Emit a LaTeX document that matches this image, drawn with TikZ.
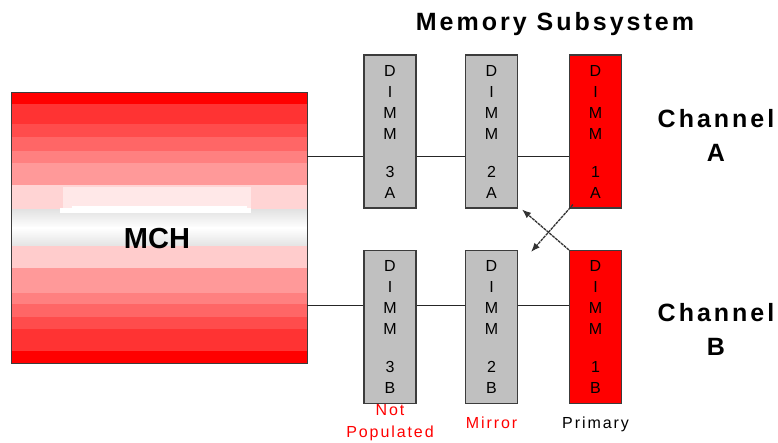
\documentclass[tikz,border=0pt]{standalone}
\usepackage{fontspec}
\setmainfont{Liberation Sans}
\newfontfamily\spacedfont[LetterSpace=12]{Liberation Sans}
\usetikzlibrary{positioning,arrows.meta}
\definecolor{dimmGray}{RGB}{192,192,192}
\definecolor{boxLine}{RGB}{60,60,60}

\begin{document}
\begin{tikzpicture}[x=1pt,y=-1pt,
	dimmBox/.style={rectangle, fill=dimmGray, draw=boxLine, line width=1.1pt, minimum width=52pt, minimum height=153pt, inner sep=0pt, align=center, font=\fontsize{16}{21}\selectfont},
	primaryBox/.style={dimmBox, fill=red},
	busLine/.style={line width=1pt, black!85},
	crossArrow/.style={line width=1.3pt, black!80, dash pattern=on 3pt off 0.8pt, -{Latex[length=9pt,width=7pt]}},
	chanLabel/.style={align=center, font=\spacedfont\bfseries\fontsize{25}{34}\selectfont},
	dimmLabel/.style={align=center, inner sep=0pt, font=\spacedfont\fontsize{16}{22}\selectfont}]

	\useasboundingbox[fill=white] (0,0) rectangle (778,443);

	% MCH bands
	\foreach \ya/\yb/\pct in {92/104/100, 104/124/80, 124/137/70, 137/151/60, 151/163/50, 163/185/40, 185/210/17, 246/268/20, 268/293/40, 293/304/50, 304/317/60, 317/329/70, 329/351/80, 351/363/100}
		\fill[red!\pct] (11,\ya) rectangle (307,\yb);
	\shade[top color=gray!22, bottom color=white] (11,210) rectangle (307,228);
	\shade[top color=white, bottom color=gray!22] (11,228) rectangle (307,246);
	\fill[red!9] (63,187) rectangle (251,209);
	\fill[white] (60,208) rectangle (251,213);
	\fill[white] (72,206) rectangle (247,209);
	\node[rectangle, draw=boxLine, line width=0.9pt, minimum width=296pt, minimum height=271pt](mchBox) at (159,227.5){};
	\node[font=\bfseries\fontsize{29}{34}\selectfont](mchLabel) at (157,239){MCH};

	% DIMMs
	\node[dimmBox](dimm3ABox) at (390,131.5){D\\I\\M\\M\\[17pt]3\\A};
	\node[dimmBox](dimm2ABox) at (491.5,131.5){D\\I\\M\\M\\[17pt]2\\A};
	\node[primaryBox](dimm1ABox) at (595.5,131.5){D\\I\\M\\M\\[17pt]1\\A};

	\node[dimmBox](dimm3BBox) at (390,327){D\\I\\M\\M\\[17pt]3\\B};
	\node[dimmBox](dimm2BBox) at (491.5,327){D\\I\\M\\M\\[17pt]2\\B};
	\node[primaryBox](dimm1BBox) at (595.5,327){D\\I\\M\\M\\[17pt]1\\B};

	% buses
	\coordinate (busA) at (307,157);
	\coordinate (busB) at (307,305);
	\foreach \ch in {A,B}
		\draw[busLine] (mchBox.east |- bus\ch) -- (dimm3\ch Box.west |- bus\ch)
			(dimm3\ch Box.east |- bus\ch) -- (dimm2\ch Box.west |- bus\ch)
			(dimm2\ch Box.east |- bus\ch) -- (dimm1\ch Box.west |- bus\ch);

	% mirror arrows
	\coordinate (fromA) at ([shift={(4,-4)}]dimm1ABox.south west);
	\coordinate (toB) at ([shift={(13,2)}]dimm2BBox.north east);
	\coordinate (fromB) at ([shift={(0,0)}]dimm1BBox.north west);
	\coordinate (toA) at ([shift={(4,1)}]dimm2ABox.south east);
	\draw[crossArrow] (fromA) -- (toB);
	\draw[crossArrow] (fromB) -- (toA);

	% labels
	\node[font=\spacedfont\bfseries\fontsize{25}{30}\selectfont](titleLabel) at (555,24){Memory Subsystem};
	\node[chanLabel](chanALabel) at (716,135){Channel\\A};
	\node[chanLabel](chanBLabel) at (716,329){Channel\\B};
	\node[dimmLabel, red, below=0pt of dimm3BBox](notPopLabel){Not\\Populated};
	\node[dimmLabel, red, below=13pt of dimm2BBox](mirrorLabel){Mirror};
	\node[dimmLabel, below=13pt of dimm1BBox](primaryLabel){Primary};
\end{tikzpicture}
\end{document}
